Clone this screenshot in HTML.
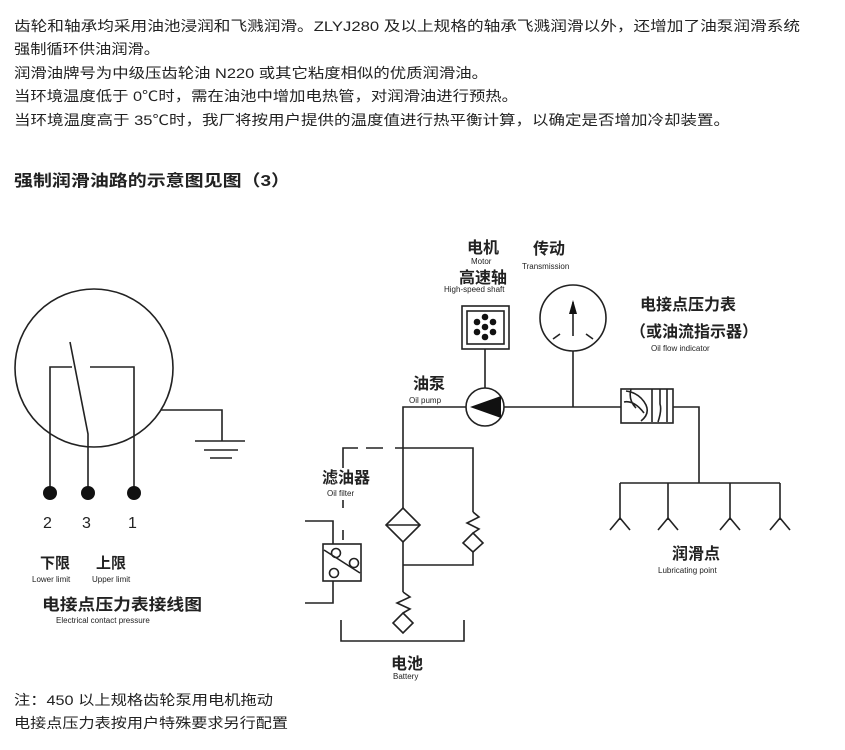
<!DOCTYPE html>
<html><head><meta charset="utf-8"><style>
html,body{margin:0;padding:0;background:#fff;}
svg{display:block;}
text{font-family:"Liberation Sans","Noto Sans CJK SC",sans-serif;fill:#222;}
</style></head><body>
<svg width="845" height="750" viewBox="0 0 845 750" xmlns="http://www.w3.org/2000/svg">
<g font-size="14">
<text x="14" y="31" textLength="786" lengthAdjust="spacingAndGlyphs">齿轮和轴承均采用油池浸润和飞溅润滑。ZLYJ280 及以上规格的轴承飞溅润滑以外，还增加了油泵润滑系统</text>
<text x="14" y="54" textLength="146" lengthAdjust="spacingAndGlyphs">强制循环供油润滑。</text>
<text x="14" y="78" textLength="474" lengthAdjust="spacingAndGlyphs">润滑油牌号为中级压齿轮油 N220 或其它粘度相似的优质润滑油。</text>
<text x="14" y="101" textLength="504" lengthAdjust="spacingAndGlyphs">当环境温度低于 0℃时，需在油池中增加电热管，对润滑油进行预热。</text>
<text x="14" y="125" textLength="716" lengthAdjust="spacingAndGlyphs">当环境温度高于 35℃时，我厂将按用户提供的温度值进行热平衡计算，以确定是否增加冷却装置。</text>
</g>
<text x="14" y="186" font-size="16" font-weight="bold" textLength="276" lengthAdjust="spacingAndGlyphs">强制润滑油路的示意图见图（3）</text>

<g stroke="#222" stroke-width="1.6" fill="none">
<!-- left gauge -->
<circle cx="94" cy="368" r="79"/>
<polyline points="50,493 50,367 72,367"/>
<polyline points="70,342 88,434 88,493"/>
<polyline points="90,367 134,367 134,493"/>
<polyline points="161,410 222,410 222,441"/>
<line x1="195" y1="441" x2="245" y2="441"/>
<line x1="204" y1="450" x2="238" y2="450"/>
<line x1="210" y1="458" x2="232" y2="458"/>
</g>
<g fill="#111">
<circle cx="50" cy="493" r="7"/><circle cx="88" cy="493" r="7"/><circle cx="134" cy="493" r="7"/>
</g>
<g font-size="16"><text x="43" y="528">2</text><text x="82" y="528">3</text><text x="128" y="528">1</text></g>
<text x="40" y="568" font-size="15" font-weight="bold">下限</text>
<text x="96" y="568" font-size="15" font-weight="bold">上限</text>
<text x="32" y="582" font-size="8" fill="#555">Lower limit</text>
<text x="92" y="582" font-size="8" fill="#555">Upper limit</text>
<text x="42" y="610" font-size="16" font-weight="bold" textLength="160" lengthAdjust="spacingAndGlyphs">电接点压力表接线图</text>
<text x="56" y="623" font-size="8" fill="#555">Electrical contact pressure</text>

<!-- right diagram -->
<g stroke="#222" stroke-width="1.6" fill="none">
<rect x="462" y="306" width="47" height="43"/>
<rect x="467" y="311" width="37" height="33"/>
<line x1="485" y1="349" x2="485" y2="388"/>
<circle cx="485" cy="407" r="19"/>
<circle cx="573" cy="318" r="33"/>
<line x1="573" y1="336" x2="573" y2="302"/>
<line x1="553" y1="339" x2="560" y2="334"/><line x1="593" y1="339" x2="586" y2="334"/>
<line x1="573" y1="351" x2="573" y2="407"/>
<line x1="504" y1="407" x2="621" y2="407"/>
<rect x="621" y="389" width="52" height="34"/>
<polyline points="673,407 699,407 699,483"/>
<line x1="620" y1="483" x2="780" y2="483"/>
<line x1="620" y1="483" x2="620" y2="520"/><line x1="668" y1="483" x2="668" y2="520"/>
<line x1="730" y1="483" x2="730" y2="520"/><line x1="780" y1="483" x2="780" y2="520"/>
<polyline points="466,407 403,407 403,508"/>
<path d="M343 468 V448 H358 M366 448 H383 M395 448 H473 V512"/>
<line x1="343" y1="500" x2="343" y2="508" stroke-dasharray="0"/>
<line x1="343" y1="530" x2="343" y2="540"/>
<polygon points="403,508 420,525 403,542 386,525"/>
<line x1="386" y1="525" x2="420" y2="525"/>
<polyline points="403,542 403,592"/>
<path d="M403 592 L410 597 L397 603 L410 609 L403 613"/>
<polygon points="403,613 413,623 403,633 393,623"/>
<polyline points="403,565 473,565 473,552"/>
<path d="M473 512 L479 517 L467 523 L479 529 L473 533"/>
<polygon points="473,533 483,543 473,552 463,543"/>
<polyline points="341,620 341,641 464,641 464,620"/>
<rect x="323" y="544" width="38" height="37"/>
<polyline points="305,521 333,521 333,544"/>
<polyline points="305,603 333,603 333,581"/>
<line x1="324" y1="550" x2="360" y2="573"/>
<circle cx="336" cy="553" r="4.5"/><circle cx="354" cy="563" r="4.5"/><circle cx="334" cy="573" r="4.5"/>
<path d="M626 391 Q640 393 646 405 Q650 414 641 421 M624 402 Q634 400 644 413 M631 389 Q628 400 636 408 M652 389 V422 M660 389 V404 Q662 410 658 422 M667 389 V422"/>
</g>
<polygon points="501,396 501,418 470,407" fill="#111"/>
<polygon points="573,300 569,314 577,314" fill="#111"/>
<g fill="#111">
<circle cx="485" cy="317" r="3.3"/><circle cx="477" cy="322" r="3.3"/><circle cx="493" cy="322" r="3.3"/>
<circle cx="485" cy="327" r="3.3"/><circle cx="477" cy="332" r="3.3"/><circle cx="493" cy="332" r="3.3"/>
<circle cx="485" cy="337" r="3.3"/>
</g>
<g stroke="#222" stroke-width="1.6" fill="none">
<path d="M610 530 L620 518 L630 530 M658 530 L668 518 L678 530 M720 530 L730 518 L740 530 M770 530 L780 518 L790 530"/>
</g>

<g font-weight="bold" font-size="16">
<text x="467" y="253">电机</text>
<text x="533" y="254">传动</text>
<text x="459" y="283">高速轴</text>
<text x="640" y="310">电接点压力表</text>
<text x="630" y="337">（或油流指示器）</text>
<text x="413" y="389">油泵</text>
<text x="322" y="483">滤油器</text>
<text x="672" y="559">润滑点</text>
<text x="391" y="669">电池</text>
</g>
<g font-size="8" fill="#555">
<text x="471" y="264">Motor</text>
<text x="522" y="269">Transmission</text>
<text x="444" y="292">High-speed shaft</text>
<text x="651" y="351">Oil flow indicator</text>
<text x="409" y="403">Oil pump</text>
<text x="327" y="496">Oil filter</text>
<text x="658" y="573">Lubricating point</text>
<text x="393" y="679">Battery</text>
</g>

<g font-size="14">
<text x="14" y="705" textLength="259" lengthAdjust="spacingAndGlyphs">注：450 以上规格齿轮泵用电机拖动</text>
<text x="14" y="728" textLength="274" lengthAdjust="spacingAndGlyphs">电接点压力表按用户特殊要求另行配置</text>
</g>
</svg>
</body></html>
